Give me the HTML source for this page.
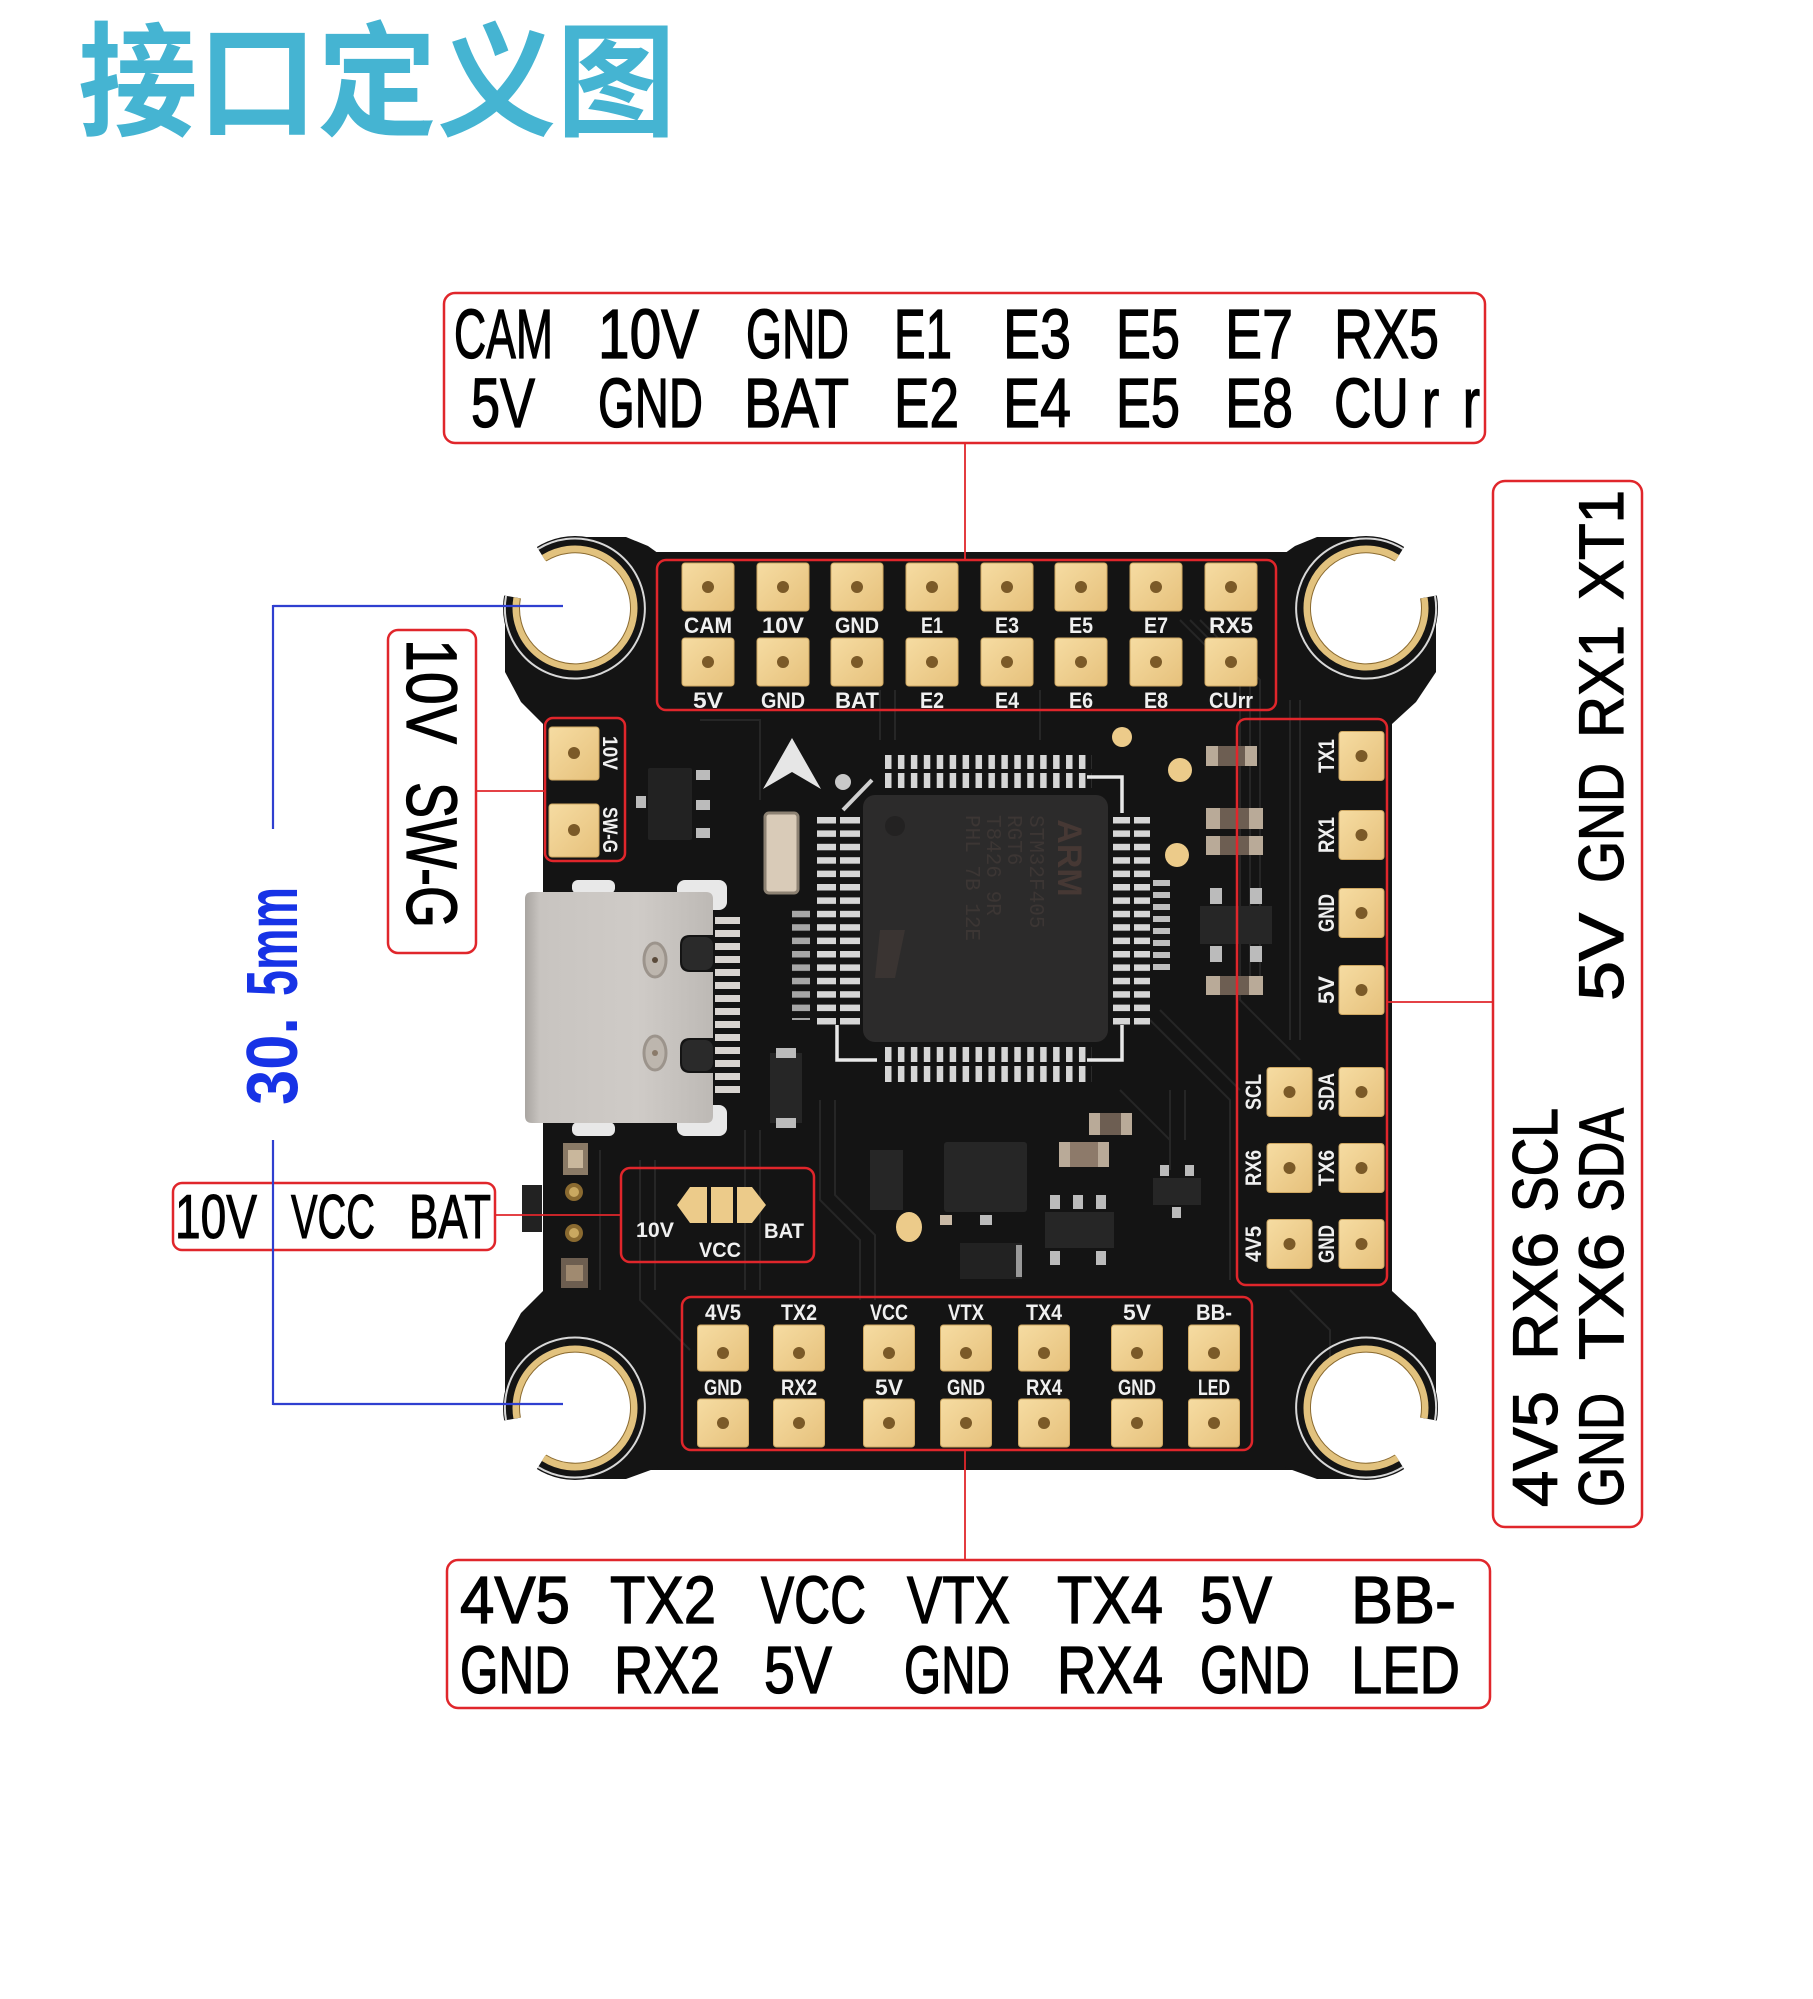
<!DOCTYPE html>
<html><head><meta charset="utf-8"><style>
html,body{margin:0;padding:0;background:#fff;}
svg{display:block;}
</style></head><body>
<svg width="1813" height="1999" viewBox="0 0 1813 1999" xmlns="http://www.w3.org/2000/svg">
<defs>
<linearGradient id="gold" x1="0" y1="0" x2="1" y2="1">
<stop offset="0" stop-color="#f6dca2"/><stop offset="1" stop-color="#e6c17c"/>
</linearGradient>
<linearGradient id="usb" x1="0" y1="0" x2="1" y2="0">
<stop offset="0" stop-color="#a9a5a1"/><stop offset="0.08" stop-color="#c8c4c0"/><stop offset="0.6" stop-color="#cfcbc7"/><stop offset="1" stop-color="#bdb9b5"/>
</linearGradient>
<pattern id="pH" x="885" y="0" width="12.93" height="2000" patternUnits="userSpaceOnUse"><rect x="0" y="0" width="6.5" height="2000" fill="#d6d6d6"/></pattern>
<pattern id="pV" x="0" y="817" width="2000" height="13.4" patternUnits="userSpaceOnUse"><rect x="0" y="0" width="2000" height="6.5" fill="#d6d6d6"/></pattern>
<pattern id="pU" x="0" y="917" width="2000" height="13" patternUnits="userSpaceOnUse"><rect x="0" y="0" width="2000" height="7" fill="#d8d4d0"/></pattern>
<pattern id="pS" x="0" y="880" width="2000" height="12" patternUnits="userSpaceOnUse"><rect x="0" y="0" width="2000" height="6" fill="#bdbdbd"/></pattern>
</defs>
<rect width="1813" height="1999" fill="#ffffff"/>

<!-- Title -->
<text x="78" y="126" font-family="'Liberation Sans','Noto Sans CJK SC',sans-serif" font-weight="bold" font-size="124" fill="#45b4d2" textLength="598" lengthAdjust="spacingAndGlyphs">接口定义图</text>

<!-- ================= BOARD ================= -->
<g fill="#141414">
<rect x="543" y="552" width="849" height="918" rx="6"/>
<circle cx="575" cy="608" r="72"/>
<circle cx="1366" cy="608" r="72"/>
<circle cx="575" cy="1408" r="72"/>
<circle cx="1366" cy="1408" r="72"/>
<polygon points="505,600 505,672 521,702 543,724 543,600"/>
<polygon points="563,537 626,537 648,546 662,556 662,600 563,600"/>
<polygon points="1436,600 1436,672 1416,702 1392,724 1392,600"/>
<polygon points="1378,537 1317,537 1295,546 1281,556 1281,600 1378,600"/>
<polygon points="505,1415 505,1343 521,1313 543,1291 543,1415"/>
<polygon points="563,1479 626,1479 648,1471 662,1466 662,1410 563,1410"/>
<polygon points="1436,1415 1436,1343 1416,1313 1392,1291 1392,1415"/>
<polygon points="1378,1479 1317,1479 1295,1471 1281,1466 1281,1410 1378,1410"/>
</g>
<!-- slight texture traces -->
<g stroke="#262626" stroke-width="2" fill="none">
<path d="M1180 620 L1240 680 L1240 1000 L1300 1060"/>
<path d="M1190 620 L1250 680 L1250 990"/>
<path d="M1200 620 L1260 680 L1260 980"/>
<path d="M1150 1020 L1230 1100 L1230 1280"/>
<path d="M1160 1010 L1240 1090"/>
<path d="M640 1160 L640 1300 L690 1350"/>
<path d="M655 1160 L655 1290"/>
<path d="M820 1100 L820 1200 L860 1240 L860 1300"/>
<path d="M835 1100 L835 1195 L875 1235 L875 1300"/>
<path d="M700 720 L760 720 L760 800"/>
<path d="M880 690 L880 740"/><path d="M895 690 L895 740"/><path d="M1040 690 L1040 740"/>
<path d="M1170 1090 L1170 1140"/><path d="M1185 1090 L1185 1140"/>
<path d="M1120 1090 L1170 1140 L1170 1170"/>
<path d="M1290 700 L1290 1040"/><path d="M1300 700 L1300 1040"/>
<path d="M760 1130 L760 1290"/><path d="M745 1130 L745 1290"/>
<path d="M600 1150 L600 1290"/>
<path d="M1290 1290 L1330 1330 L1330 1400"/>
</g>
<!-- holes -->
<g fill="#ffffff">
<circle cx="575" cy="608" r="56"/>
<circle cx="1366" cy="608" r="56"/>
<circle cx="575" cy="1408" r="56"/>
<circle cx="1366" cy="1408" r="56"/>
<polygon points="575,608 466.7,588.9 483.8,546.5 516.7,514.7"/>
<polygon points="1366,608 1424.3,514.7 1457.2,546.5 1474.3,588.9"/>
<polygon points="575,1408 466.7,1427.1 483.8,1469.5 516.7,1501.3"/>
<polygon points="1366,1408 1474.3,1427.1 1457.2,1469.5 1424.3,1501.3"/>
</g>
<!-- silkscreen rings -->
<g stroke="#d8d8d8" stroke-width="2" fill="none">
<path d="M538 549 A70 70 0 1 1 506 596"/>
<path d="M1435 596 A70 70 0 1 1 1403 549"/>
<path d="M506 1420 A70 70 0 1 1 538 1467"/>
<path d="M1403 1467 A70 70 0 1 1 1435 1420"/>
</g>
<!-- gold rings -->
<g stroke="#e2c27e" stroke-width="7" fill="none" stroke-linecap="butt">
<path d="M543.7 558 A59 59 0 1 1 516.9 597.8"/>
<path d="M1424.1 597.8 A59 59 0 1 1 1397.3 558"/>
<path d="M516.9 1418.2 A59 59 0 1 1 543.7 1458"/>
<path d="M1397.3 1458 A59 59 0 1 1 1424.1 1418.2"/>
</g>
<g stroke="#8a6a30" stroke-width="1" fill="none">
<path d="M546 561 A55.5 55.5 0 1 1 520.4 598.4"/>
<path d="M1420.6 598.4 A55.5 55.5 0 1 1 1395 561"/>
<path d="M520.4 1417.6 A55.5 55.5 0 1 1 546 1455"/>
<path d="M1395 1455 A55.5 55.5 0 1 1 1420.6 1417.6"/>
</g>

<!-- Top pads -->
<g fill="url(#gold)" stroke="#cfa862" stroke-width="1">
<rect x="682" y="563" width="52" height="48" rx="3"/><rect x="757" y="563" width="52" height="48" rx="3"/><rect x="831" y="563" width="52" height="48" rx="3"/><rect x="906" y="563" width="52" height="48" rx="3"/><rect x="981" y="563" width="52" height="48" rx="3"/><rect x="1055" y="563" width="52" height="48" rx="3"/><rect x="1130" y="563" width="52" height="48" rx="3"/><rect x="1205" y="563" width="52" height="48" rx="3"/>
<rect x="682" y="638" width="52" height="48" rx="3"/><rect x="757" y="638" width="52" height="48" rx="3"/><rect x="831" y="638" width="52" height="48" rx="3"/><rect x="906" y="638" width="52" height="48" rx="3"/><rect x="981" y="638" width="52" height="48" rx="3"/><rect x="1055" y="638" width="52" height="48" rx="3"/><rect x="1130" y="638" width="52" height="48" rx="3"/><rect x="1205" y="638" width="52" height="48" rx="3"/>
</g>
<g fill="#7b5a28">
<circle cx="708" cy="587" r="6"/><circle cx="783" cy="587" r="6"/><circle cx="857" cy="587" r="6"/><circle cx="932" cy="587" r="6"/><circle cx="1007" cy="587" r="6"/><circle cx="1081" cy="587" r="6"/><circle cx="1156" cy="587" r="6"/><circle cx="1231" cy="587" r="6"/>
<circle cx="708" cy="662" r="6"/><circle cx="783" cy="662" r="6"/><circle cx="857" cy="662" r="6"/><circle cx="932" cy="662" r="6"/><circle cx="1007" cy="662" r="6"/><circle cx="1081" cy="662" r="6"/><circle cx="1156" cy="662" r="6"/><circle cx="1231" cy="662" r="6"/>
</g>
<g font-family="'Liberation Sans',sans-serif" font-weight="bold" font-size="22" fill="#f0f0f0" text-anchor="middle">
<text x="708" y="633" textLength="48" lengthAdjust="spacingAndGlyphs">CAM</text>
<text x="783" y="633" textLength="42" lengthAdjust="spacingAndGlyphs">10V</text>
<text x="857" y="633" textLength="44" lengthAdjust="spacingAndGlyphs">GND</text>
<text x="932" y="633" textLength="22" lengthAdjust="spacingAndGlyphs">E1</text>
<text x="1007" y="633" textLength="24" lengthAdjust="spacingAndGlyphs">E3</text>
<text x="1081" y="633" textLength="24" lengthAdjust="spacingAndGlyphs">E5</text>
<text x="1156" y="633" textLength="24" lengthAdjust="spacingAndGlyphs">E7</text>
<text x="1231" y="633" textLength="44" lengthAdjust="spacingAndGlyphs">RX5</text>
<text x="708" y="708" textLength="30" lengthAdjust="spacingAndGlyphs">5V</text>
<text x="783" y="708" textLength="44" lengthAdjust="spacingAndGlyphs">GND</text>
<text x="857" y="708" textLength="44" lengthAdjust="spacingAndGlyphs">BAT</text>
<text x="932" y="708" textLength="24" lengthAdjust="spacingAndGlyphs">E2</text>
<text x="1007" y="708" textLength="24" lengthAdjust="spacingAndGlyphs">E4</text>
<text x="1081" y="708" textLength="24" lengthAdjust="spacingAndGlyphs">E6</text>
<text x="1156" y="708" textLength="24" lengthAdjust="spacingAndGlyphs">E8</text>
<text x="1231" y="708" textLength="44" lengthAdjust="spacingAndGlyphs">CUrr</text>
</g>

<!-- Bottom pads -->
<g fill="url(#gold)" stroke="#cfa862" stroke-width="1">
<rect x="697.5" y="1325" width="51" height="46" rx="3"/><rect x="773.5" y="1325" width="51" height="46" rx="3"/><rect x="863.5" y="1325" width="51" height="46" rx="3"/><rect x="940.5" y="1325" width="51" height="46" rx="3"/><rect x="1018.5" y="1325" width="51" height="46" rx="3"/><rect x="1111.5" y="1325" width="51" height="46" rx="3"/><rect x="1188.5" y="1325" width="51" height="46" rx="3"/>
<rect x="697.5" y="1399" width="51" height="48" rx="3"/><rect x="773.5" y="1399" width="51" height="48" rx="3"/><rect x="863.5" y="1399" width="51" height="48" rx="3"/><rect x="940.5" y="1399" width="51" height="48" rx="3"/><rect x="1018.5" y="1399" width="51" height="48" rx="3"/><rect x="1111.5" y="1399" width="51" height="48" rx="3"/><rect x="1188.5" y="1399" width="51" height="48" rx="3"/>
</g>
<g fill="#7b5a28">
<circle cx="723" cy="1353" r="6"/><circle cx="799" cy="1353" r="6"/><circle cx="889" cy="1353" r="6"/><circle cx="966" cy="1353" r="6"/><circle cx="1044" cy="1353" r="6"/><circle cx="1137" cy="1353" r="6"/><circle cx="1214" cy="1353" r="6"/>
<circle cx="723" cy="1423" r="6"/><circle cx="799" cy="1423" r="6"/><circle cx="889" cy="1423" r="6"/><circle cx="966" cy="1423" r="6"/><circle cx="1044" cy="1423" r="6"/><circle cx="1137" cy="1423" r="6"/><circle cx="1214" cy="1423" r="6"/>
</g>
<g font-family="'Liberation Sans',sans-serif" font-weight="bold" font-size="22" fill="#f0f0f0" text-anchor="middle">
<text x="723" y="1320" textLength="36" lengthAdjust="spacingAndGlyphs">4V5</text>
<text x="799" y="1320" textLength="36" lengthAdjust="spacingAndGlyphs">TX2</text>
<text x="889" y="1320" textLength="38" lengthAdjust="spacingAndGlyphs">VCC</text>
<text x="966" y="1320" textLength="36" lengthAdjust="spacingAndGlyphs">VTX</text>
<text x="1044" y="1320" textLength="36" lengthAdjust="spacingAndGlyphs">TX4</text>
<text x="1137" y="1320" textLength="28" lengthAdjust="spacingAndGlyphs">5V</text>
<text x="1214" y="1320" textLength="36" lengthAdjust="spacingAndGlyphs">BB-</text>
<text x="723" y="1395" textLength="38" lengthAdjust="spacingAndGlyphs">GND</text>
<text x="799" y="1395" textLength="36" lengthAdjust="spacingAndGlyphs">RX2</text>
<text x="889" y="1395" textLength="28" lengthAdjust="spacingAndGlyphs">5V</text>
<text x="966" y="1395" textLength="38" lengthAdjust="spacingAndGlyphs">GND</text>
<text x="1044" y="1395" textLength="36" lengthAdjust="spacingAndGlyphs">RX4</text>
<text x="1137" y="1395" textLength="38" lengthAdjust="spacingAndGlyphs">GND</text>
<text x="1214" y="1395" textLength="32" lengthAdjust="spacingAndGlyphs">LED</text>
</g>

<!-- Right pads -->
<g fill="url(#gold)" stroke="#cfa862" stroke-width="1">
<rect x="1339" y="731.5" width="45" height="49" rx="3"/><rect x="1339" y="810.5" width="45" height="49" rx="3"/><rect x="1339" y="888.5" width="45" height="49" rx="3"/><rect x="1339" y="965.5" width="45" height="49" rx="3"/><rect x="1339" y="1067.5" width="45" height="49" rx="3"/><rect x="1339" y="1143.5" width="45" height="49" rx="3"/><rect x="1339" y="1219.5" width="45" height="49" rx="3"/>
<rect x="1267" y="1067.5" width="45" height="49" rx="3"/><rect x="1267" y="1143.5" width="45" height="49" rx="3"/><rect x="1267" y="1219.5" width="45" height="49" rx="3"/>
</g>
<g fill="#7b5a28">
<circle cx="1361.5" cy="756" r="6"/><circle cx="1361.5" cy="835" r="6"/><circle cx="1361.5" cy="913" r="6"/><circle cx="1361.5" cy="990" r="6"/><circle cx="1361.5" cy="1092" r="6"/><circle cx="1361.5" cy="1168" r="6"/><circle cx="1361.5" cy="1244" r="6"/>
<circle cx="1289.5" cy="1092" r="6"/><circle cx="1289.5" cy="1168" r="6"/><circle cx="1289.5" cy="1244" r="6"/>
</g>
<g font-family="'Liberation Sans',sans-serif" font-weight="bold" font-size="22" fill="#f0f0f0" text-anchor="middle">
<text transform="translate(1334,756) rotate(-90)" textLength="34" lengthAdjust="spacingAndGlyphs">TX1</text>
<text transform="translate(1334,835) rotate(-90)" textLength="36" lengthAdjust="spacingAndGlyphs">RX1</text>
<text transform="translate(1334,913) rotate(-90)" textLength="38" lengthAdjust="spacingAndGlyphs">GND</text>
<text transform="translate(1334,990) rotate(-90)" textLength="28" lengthAdjust="spacingAndGlyphs">5V</text>
<text transform="translate(1334,1092) rotate(-90)" textLength="38" lengthAdjust="spacingAndGlyphs">SDA</text>
<text transform="translate(1334,1168) rotate(-90)" textLength="36" lengthAdjust="spacingAndGlyphs">TX6</text>
<text transform="translate(1334,1244) rotate(-90)" textLength="38" lengthAdjust="spacingAndGlyphs">GND</text>
<text transform="translate(1261,1092) rotate(-90)" textLength="36" lengthAdjust="spacingAndGlyphs">SCL</text>
<text transform="translate(1261,1168) rotate(-90)" textLength="36" lengthAdjust="spacingAndGlyphs">RX6</text>
<text transform="translate(1261,1244) rotate(-90)" textLength="36" lengthAdjust="spacingAndGlyphs">4V5</text>
</g>

<!-- Left pads -->
<g fill="url(#gold)" stroke="#cfa862" stroke-width="1">
<rect x="549" y="727" width="50" height="53" rx="3"/><rect x="549" y="804" width="50" height="53" rx="3"/>
</g>
<g fill="#7b5a28"><circle cx="574" cy="753" r="6"/><circle cx="574" cy="830" r="6"/></g>
<g font-family="'Liberation Sans',sans-serif" font-weight="bold" font-size="21" fill="#f0f0f0" text-anchor="middle">
<text transform="translate(603,753) rotate(90)" textLength="34" lengthAdjust="spacingAndGlyphs">10V</text>
<text transform="translate(603,830) rotate(90)" textLength="46" lengthAdjust="spacingAndGlyphs">SW-G</text>
</g>

<!-- small IC near left pads -->
<rect x="648" y="768" width="44" height="72" fill="#222" rx="2"/>
<rect x="696" y="770" width="14" height="10" fill="#bbb"/><rect x="696" y="800" width="14" height="10" fill="#bbb"/><rect x="696" y="828" width="14" height="10" fill="#bbb"/>
<rect x="636" y="796" width="10" height="12" fill="#bbb"/>

<!-- Arrow -->
<polygon points="792,738 821,789 792,772 763,789" fill="#e6e6e6"/>
<circle cx="843" cy="782" r="8" fill="#c8c8c8"/>
<line x1="843" y1="810" x2="872" y2="780" stroke="#d0d0d0" stroke-width="4"/>

<!-- crystal -->
<rect x="765" y="813" width="33" height="80" rx="4" fill="#d9cbb8" stroke="#8d8273" stroke-width="3"/>

<!-- chip -->
<rect x="885" y="755" width="207" height="33" fill="url(#pH)"/>
<rect x="885" y="1047" width="207" height="35" fill="url(#pH)"/>
<rect x="817" y="817" width="43" height="208" fill="url(#pV)"/>
<rect x="1113" y="817" width="37" height="208" fill="url(#pV)"/>
<rect x="880" y="769" width="215" height="4" fill="#141414"/>
<rect x="880" y="1062" width="215" height="4" fill="#141414"/>
<rect x="836" y="812" width="4" height="215" fill="#141414"/>
<rect x="1130" y="812" width="4" height="215" fill="#141414"/>
<rect x="792" y="907" width="18" height="113" fill="url(#pV)" opacity="0.75"/>
<rect x="1153" y="880" width="17" height="90" fill="url(#pS)"/>
<rect x="863" y="795" width="245" height="247" rx="12" fill="#2c2b2b"/>
<circle cx="895" cy="826" r="10" fill="#232222"/>
<g fill="none" stroke="#e8e8e8" stroke-width="3.5">
<polyline points="1087,777 1122,777 1122,813"/>
<polyline points="837,1025 837,1060 877,1060"/>
<polyline points="1122,1025 1122,1060 1087,1060"/>
</g>
<g font-family="'Liberation Sans',sans-serif" fill="#463834">
<text transform="translate(1058,858) rotate(90)" font-size="34" font-weight="bold" text-anchor="middle">ARM</text>
</g>
<g font-family="'Liberation Mono',monospace" fill="#3c3634" font-size="21">
<text transform="translate(1030,815) rotate(90)">STM32F405</text>
<text transform="translate(1008,815) rotate(90)">RGT6</text>
<text transform="translate(987,815) rotate(90)">T8426 9R</text>
<text transform="translate(966,815) rotate(90)">PHL 7B 12E</text>
</g>
<polygon points="880,930 905,930 895,978 875,978" fill="#3a3432"/>

<!-- gold test dots -->
<g fill="#eccb8a">
<circle cx="1122" cy="737" r="10"/><circle cx="1180" cy="770" r="12"/><circle cx="1177" cy="855" r="12"/>
<ellipse cx="909" cy="1227" rx="13" ry="15"/>
</g>

<!-- right side components -->
<g>
<rect x="1206" y="746" width="51" height="20" fill="#b9aa98"/><rect x="1218" y="746" width="27" height="20" fill="#6d5e52"/>
<rect x="1206" y="808" width="57" height="21" fill="#b9aa98"/><rect x="1220" y="808" width="29" height="21" fill="#6d5e52"/>
<rect x="1206" y="836" width="57" height="19" fill="#b9aa98"/><rect x="1220" y="836" width="29" height="19" fill="#6d5e52"/>
<rect x="1200" y="906" width="72" height="38" fill="#262626"/>
<rect x="1210" y="888" width="12" height="16" fill="#bbb"/><rect x="1250" y="888" width="12" height="16" fill="#bbb"/>
<rect x="1210" y="946" width="12" height="16" fill="#bbb"/><rect x="1250" y="946" width="12" height="16" fill="#bbb"/>
<rect x="1206" y="976" width="57" height="19" fill="#b9aa98"/><rect x="1220" y="976" width="29" height="19" fill="#6d5e52"/>
</g>

<!-- lower components -->
<g>
<rect x="770" y="1053" width="32" height="70" fill="#262626"/><rect x="776" y="1048" width="20" height="10" fill="#bbb"/><rect x="776" y="1118" width="20" height="10" fill="#bbb"/>
<rect x="944" y="1142" width="83" height="70" rx="3" fill="#262626"/>
<rect x="870" y="1150" width="33" height="60" fill="#262626"/>
<rect x="1089" y="1113" width="43" height="22" fill="#b9aa98"/><rect x="1100" y="1113" width="21" height="22" fill="#6d5e52"/>
<rect x="1059" y="1142" width="50" height="25" fill="#b9aa98"/><rect x="1070" y="1142" width="28" height="25" fill="#8d7a6a"/>
<rect x="1045" y="1212" width="69" height="36" fill="#262626"/>
<rect x="1050" y="1195" width="10" height="14" fill="#bbb"/><rect x="1073" y="1195" width="10" height="14" fill="#bbb"/><rect x="1096" y="1195" width="10" height="14" fill="#bbb"/>
<rect x="1050" y="1251" width="10" height="14" fill="#bbb"/><rect x="1096" y="1251" width="10" height="14" fill="#bbb"/>
<rect x="960" y="1243" width="62" height="36" fill="#222"/><rect x="1016" y="1245" width="6" height="32" fill="#999"/>
<rect x="1153" y="1178" width="48" height="27" fill="#262626"/>
<rect x="1160" y="1165" width="9" height="11" fill="#bbb"/><rect x="1185" y="1165" width="9" height="11" fill="#bbb"/><rect x="1172" y="1207" width="9" height="11" fill="#bbb"/>
<rect x="940" y="1215" width="12" height="10" fill="#c9b9a5"/><rect x="980" y="1215" width="12" height="10" fill="#bbb"/>
</g>

<!-- USB-C -->
<rect x="572" y="880" width="43" height="14" rx="6" fill="#e8e8e8"/>
<rect x="677" y="880" width="50" height="30" rx="8" fill="#e8e8e8"/>
<rect x="572" y="1122" width="43" height="14" rx="6" fill="#e8e8e8"/>
<rect x="677" y="1105" width="50" height="31" rx="8" fill="#e8e8e8"/>
<rect x="715" y="917" width="25" height="182" fill="url(#pU)"/>
<path d="M532 892 H706 Q713 892 713 899 V935 H690 Q680 935 680 945 V962 Q680 972 690 972 H713 V1038 H690 Q680 1038 680 1048 V1063 Q680 1073 690 1073 H713 V1116 Q713 1123 706 1123 H532 Q525 1123 525 1116 V899 Q525 892 532 892 Z" fill="url(#usb)"/>
<rect x="682" y="937" width="31" height="33" rx="8" fill="#2a2a2a"/>
<rect x="682" y="1040" width="31" height="31" rx="8" fill="#2a2a2a"/>
<ellipse cx="655" cy="960" rx="11" ry="17" fill="#bdb6ae" stroke="#9c948c" stroke-width="3"/>
<circle cx="655" cy="960" r="3" fill="#5a4a3a"/>
<ellipse cx="655" cy="1053" rx="11" ry="17" fill="#bdb6ae" stroke="#9c948c" stroke-width="3"/>
<circle cx="655" cy="1053" r="3" fill="#8a7a6a"/>

<!-- left-lower small parts -->
<rect x="563" y="1143" width="25" height="32" fill="#8a7a66"/><rect x="568" y="1150" width="15" height="18" fill="#c9b79c"/>
<circle cx="574" cy="1192" r="9" fill="#8a6a30"/><circle cx="574" cy="1192" r="5" fill="#c9a860"/>
<circle cx="574" cy="1233" r="9" fill="#8a6a30"/><circle cx="574" cy="1233" r="5" fill="#c9a860"/>
<rect x="561" y="1258" width="27" height="30" fill="#6d5e50"/><rect x="566" y="1265" width="17" height="16" fill="#a08a70"/>
<rect x="522" y="1185" width="20" height="47" fill="#222"/>

<!-- on-board jumper 10V VCC BAT -->
<polygon points="677,1205 690,1187 707,1187 707,1223 690,1223" fill="#eccb8a"/>
<rect x="711" y="1187" width="22" height="36" fill="#eccb8a"/>
<polygon points="737,1187 752,1187 766,1205 752,1223 737,1223" fill="#eccb8a"/>
<g font-family="'Liberation Sans',sans-serif" font-weight="bold" font-size="21" fill="#f0f0f0">
<text x="636" y="1237" textLength="38" lengthAdjust="spacingAndGlyphs">10V</text>
<text x="699" y="1257" textLength="42" lengthAdjust="spacingAndGlyphs">VCC</text>
<text x="764" y="1238" textLength="40" lengthAdjust="spacingAndGlyphs">BAT</text>
</g>

<!-- ========== RED HIGHLIGHT BOXES ON BOARD ========== -->
<g fill="none" stroke="#e0262b" stroke-width="2.5">
<rect x="657" y="560" width="619" height="150" rx="9"/>
<rect x="682" y="1297" width="570" height="153" rx="9"/>
<rect x="1237" y="719" width="150" height="566" rx="9"/>
<rect x="545" y="718" width="80" height="143" rx="8"/>
<rect x="621" y="1168" width="193" height="94" rx="9"/>
</g>

<!-- ========== LABEL BOXES ========== -->
<g fill="#ffffff" stroke="#e0262b" stroke-width="2.5">
<rect x="444" y="293" width="1041" height="150" rx="11"/>
<rect x="447" y="1560" width="1043" height="148" rx="11"/>
<rect x="1493" y="481" width="149" height="1046" rx="12"/>
<rect x="388" y="630" width="88" height="323" rx="10"/>
<rect x="173" y="1183" width="322" height="67" rx="9"/>
</g>
<!-- connectors -->
<g stroke="#e0262b" stroke-width="1.8">
<line x1="965" y1="443" x2="965" y2="560"/>
<line x1="965" y1="1450" x2="965" y2="1560"/>
<line x1="1387" y1="1002" x2="1493" y2="1002"/>
<line x1="476" y1="791" x2="545" y2="791"/>
<line x1="495" y1="1215" x2="621" y2="1215"/>
</g>

<!-- top box text -->
<g font-family="'Liberation Sans',sans-serif" font-size="70" fill="#000" stroke="#000" stroke-width="1.3">
<text x="454" y="358" textLength="99" lengthAdjust="spacingAndGlyphs">CAM</text>
<text x="598" y="358" textLength="101" lengthAdjust="spacingAndGlyphs">10V</text>
<text x="746" y="358" textLength="103" lengthAdjust="spacingAndGlyphs">GND</text>
<text x="894" y="358" textLength="58" lengthAdjust="spacingAndGlyphs">E1</text>
<text x="1003" y="358" textLength="68" lengthAdjust="spacingAndGlyphs">E3</text>
<text x="1116" y="358" textLength="64" lengthAdjust="spacingAndGlyphs">E5</text>
<text x="1225" y="358" textLength="68" lengthAdjust="spacingAndGlyphs">E7</text>
<text x="1334" y="358" textLength="105" lengthAdjust="spacingAndGlyphs">RX5</text>
<text x="471" y="427" textLength="64" lengthAdjust="spacingAndGlyphs">5V</text>
<text x="598" y="427" textLength="105" lengthAdjust="spacingAndGlyphs">GND</text>
<text x="744" y="427" textLength="105" lengthAdjust="spacingAndGlyphs">BAT</text>
<text x="894" y="427" textLength="65" lengthAdjust="spacingAndGlyphs">E2</text>
<text x="1003" y="427" textLength="68" lengthAdjust="spacingAndGlyphs">E4</text>
<text x="1116" y="427" textLength="64" lengthAdjust="spacingAndGlyphs">E5</text>
<text x="1225" y="427" textLength="68" lengthAdjust="spacingAndGlyphs">E8</text>
<text transform="translate(1334,427) scale(0.74,1)" x="0 50.6 119 174" y="0">CUrr</text>
</g>

<!-- bottom box text -->
<g font-family="'Liberation Sans',sans-serif" font-size="67" fill="#000" stroke="#000" stroke-width="1.3">
<text x="460" y="1623" textLength="110" lengthAdjust="spacingAndGlyphs">4V5</text>
<text x="610" y="1623" textLength="106" lengthAdjust="spacingAndGlyphs">TX2</text>
<text x="761" y="1623" textLength="105" lengthAdjust="spacingAndGlyphs">VCC</text>
<text x="907" y="1623" textLength="103" lengthAdjust="spacingAndGlyphs">VTX</text>
<text x="1057" y="1623" textLength="106" lengthAdjust="spacingAndGlyphs">TX4</text>
<text x="1200" y="1623" textLength="72" lengthAdjust="spacingAndGlyphs">5V</text>
<text x="1351" y="1623" textLength="105" lengthAdjust="spacingAndGlyphs">BB-</text>
<text x="460" y="1693" textLength="110" lengthAdjust="spacingAndGlyphs">GND</text>
<text x="614" y="1693" textLength="106" lengthAdjust="spacingAndGlyphs">RX2</text>
<text x="764" y="1693" textLength="68" lengthAdjust="spacingAndGlyphs">5V</text>
<text x="904" y="1693" textLength="106" lengthAdjust="spacingAndGlyphs">GND</text>
<text x="1057" y="1693" textLength="106" lengthAdjust="spacingAndGlyphs">RX4</text>
<text x="1200" y="1693" textLength="110" lengthAdjust="spacingAndGlyphs">GND</text>
<text x="1351" y="1693" textLength="109" lengthAdjust="spacingAndGlyphs">LED</text>
</g>

<!-- right box text (rotated) -->
<g font-family="'Liberation Sans',sans-serif" font-size="63" fill="#000" stroke="#000" stroke-width="1.2">
<text transform="translate(1557,1507) rotate(-90)" textLength="116" lengthAdjust="spacingAndGlyphs">4V5</text>
<text transform="translate(1557,1360) rotate(-90)" textLength="128" lengthAdjust="spacingAndGlyphs">RX6</text>
<text transform="translate(1557,1212) rotate(-90)" textLength="104" lengthAdjust="spacingAndGlyphs">SCL</text>
<text transform="translate(1623,1507) rotate(-90)" textLength="114" lengthAdjust="spacingAndGlyphs">GND</text>
<text transform="translate(1623,1360) rotate(-90)" textLength="127" lengthAdjust="spacingAndGlyphs">TX6</text>
<text transform="translate(1623,1212) rotate(-90)" textLength="104" lengthAdjust="spacingAndGlyphs">SDA</text>
<text transform="translate(1623,1001) rotate(-90)" textLength="88" lengthAdjust="spacingAndGlyphs">5V</text>
<text transform="translate(1623,883) rotate(-90)" textLength="120" lengthAdjust="spacingAndGlyphs">GND</text>
<text transform="translate(1623,738) rotate(-90)" textLength="113" lengthAdjust="spacingAndGlyphs">RX1</text>
<text transform="translate(1623,600) rotate(-90)" textLength="110" lengthAdjust="spacingAndGlyphs">XT1</text>
</g>

<!-- left box text 10V SW-G -->
<g font-family="'Liberation Sans',sans-serif" font-size="71" fill="#000" stroke="#000" stroke-width="1.2">
<text transform="translate(407,639) rotate(90)" textLength="105" lengthAdjust="spacingAndGlyphs">10V</text>
<text transform="translate(407,782) rotate(90)" textLength="146" lengthAdjust="spacingAndGlyphs">SW-G</text>
</g>

<!-- 10V VCC BAT label -->
<g font-family="'Liberation Sans',sans-serif" font-size="62" fill="#000" stroke="#000" stroke-width="1.1">
<text x="175" y="1238" textLength="82" lengthAdjust="spacingAndGlyphs">10V</text>
<text x="291" y="1238" textLength="84" lengthAdjust="spacingAndGlyphs">VCC</text>
<text x="409" y="1238" textLength="82" lengthAdjust="spacingAndGlyphs">BAT</text>
</g>

<!-- blue dimension -->
<g stroke="#2f3fd0" stroke-width="2.2">
<line x1="273" y1="606" x2="563" y2="606"/>
<line x1="273" y1="1404" x2="563" y2="1404"/>
<line x1="273" y1="605" x2="273" y2="829"/>
<line x1="273" y1="1140" x2="273" y2="1405"/>
</g>
<g font-family="'Liberation Sans',sans-serif" font-size="72" font-weight="bold" fill="#1733e6">
<text transform="translate(297,1105) rotate(-90)" textLength="88" lengthAdjust="spacingAndGlyphs">30.</text>
<text transform="translate(297,996) rotate(-90)" textLength="109" lengthAdjust="spacingAndGlyphs">5mm</text>
</g>
</svg>
</body></html>
